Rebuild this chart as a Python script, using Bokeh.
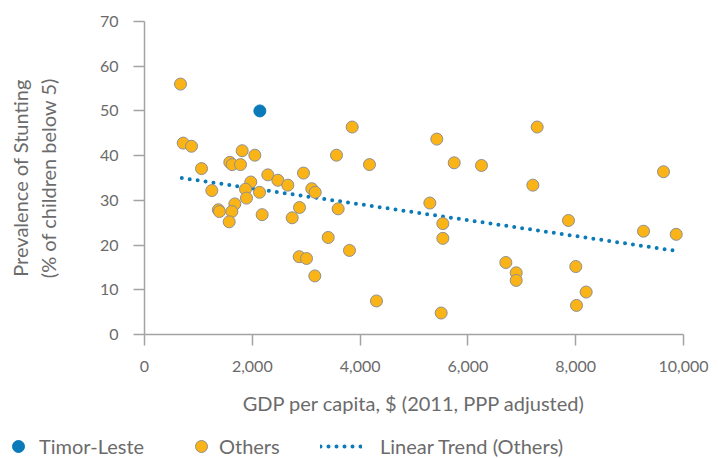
from bokeh.plotting import figure
from bokeh.layouts import column
from bokeh.models import Range1d, LinearAxis, FixedTicker, Legend, LegendItem, NumeralTickFormatter
from bokeh.embed import file_html
from bokeh.resources import INLINE

# ---------------- data ----------------
timor_gdp = [2140]
timor_stunting = [50.0]

others_gdp = [668, 718, 872, 1812, 2047, 3562, 1058, 1583, 1627, 1781,
              2288, 2474, 2659, 2950, 1972, 1874, 1249, 1892, 2134, 3104,
              3167, 3593, 1676, 1370, 1390, 1620, 1571, 2183, 2876, 2740,
              3408, 2870, 3006, 3803, 3160, 4304, 4174, 3853, 5423, 5746,
              6252, 7285, 7205, 5294, 5535, 5535, 5504, 6704, 6896, 6896,
              7866, 8002, 8015, 9629, 9258, 9865, 8194]
others_stunting = [56.0, 42.8, 42.1, 41.1, 40.1, 40.1, 37.1, 38.5, 38.0, 38.0,
                   35.7, 34.5, 33.4, 36.1, 34.1, 32.5, 32.2, 30.5, 31.8, 32.6,
                   31.8, 28.1, 29.2, 27.9, 27.5, 27.5, 25.2, 26.8, 28.4, 26.1,
                   21.7, 17.4, 17.0, 18.8, 13.1, 7.5, 38.0, 46.4, 43.7, 38.4,
                   37.8, 46.4, 33.4, 29.4, 24.8, 21.5, 4.8, 16.1, 13.8, 12.1,
                   25.5, 15.2, 6.5, 36.4, 23.1, 22.4, 9.5]

trend_gdp = [692, 9808]
trend_stunting = [35.0, 18.8]

x_ticks = [0, 2000, 4000, 6000, 8000, 10000]
y_ticks = [0, 10, 20, 30, 40, 50, 60, 70]

series_names = ["Timor-Leste", "Others", "Linear Trend (Others)"]

# ---------------- style ----------------
FONT = "Lato"
TEXT = "#6b6b6b"
AXIS = "#a3a3a3"
BLUE = "#0a7ab8"
ORANGE = "#fbb417"
EDGE = "#8f8f8f"

p = figure(width=718, height=434, output_backend="svg", toolbar_location=None,
           x_range=Range1d(0, 10000), y_range=Range1d(0, 70),
           min_border_left=144, min_border_right=35, min_border_top=21,
           min_border_bottom=100)
p.outline_line_color = None
p.xgrid.visible = False
p.ygrid.visible = False

p.line(trend_gdp, trend_stunting, line_color=BLUE, line_width=4,
       line_dash="0 8", line_cap="round")
p.scatter(others_gdp, others_stunting, size=12, fill_color=ORANGE,
          line_color=EDGE, line_width=1)
p.scatter(timor_gdp, timor_stunting, size=12, fill_color=BLUE,
          line_color=BLUE, line_width=1)

for ax in (p.xaxis[0], p.yaxis[0]):
    ax.axis_line_color = AXIS
    ax.axis_line_width = 1.5
    ax.major_tick_line_color = AXIS
    ax.major_tick_line_width = 1.5
    ax.major_tick_in = 0
    ax.major_tick_out = 11
    ax.minor_tick_line_color = None
    ax.major_label_text_font = FONT
    ax.major_label_text_font_size = "16px"
    ax.major_label_text_color = TEXT
    ax.axis_label_text_font = FONT
    ax.axis_label_text_font_size = "20px"
    ax.axis_label_text_font_style = "normal"
    ax.axis_label_text_color = TEXT

p.xaxis[0].ticker = FixedTicker(ticks=x_ticks)
p.xaxis[0].formatter = NumeralTickFormatter(format="0,0")
p.xaxis[0].major_label_standoff = 15
p.xaxis[0].axis_label = "GDP per capita, $ (2011, PPP adjusted)"
p.xaxis[0].axis_label_standoff = 16

p.yaxis[0].ticker = FixedTicker(ticks=y_ticks)
p.yaxis[0].major_label_standoff = 15
p.yaxis[0].axis_label = "(% of children below 5)"
p.yaxis[0].axis_label_standoff = 37

ax2 = LinearAxis(ticker=FixedTicker(ticks=[]), axis_line_color=None,
                 major_tick_out=0, major_tick_in=0, minor_tick_line_color=None,
                 major_label_standoff=0,
                 axis_label="Prevalence of Stunting", axis_label_standoff=1,
                 axis_label_text_font=FONT, axis_label_text_font_size="20px",
                 axis_label_text_font_style="normal", axis_label_text_color=TEXT)
p.add_layout(ax2, "left")

# ---------------- legend strip ----------------
lg = figure(width=718, height=24, output_backend="svg", toolbar_location=None,
            x_axis_location=None, y_axis_location=None,
            x_range=Range1d(0, 1), y_range=Range1d(0, 1), min_border=0)
lg.outline_line_color = None
lg.xgrid.visible = False
lg.ygrid.visible = False
for fig in (p, lg):
    if "frame_align" in fig.properties():
        fig.frame_align = False

# proxy renderers (their points fall outside this strip's ranges; only the
# legend swatches show)
r_tim = lg.scatter(x=timor_gdp, y=timor_stunting, size=12, fill_color=BLUE,
                   line_color=BLUE, line_width=1)
r_oth = lg.scatter(x=others_gdp, y=others_stunting, size=12, fill_color=ORANGE,
                   line_color=EDGE, line_width=1)
r_trend = lg.line(x=trend_gdp, y=trend_stunting, line_color=BLUE, line_width=4,
                  line_dash="0 8", line_cap="round")

def make_legend(label, renderer, loc, gw, standoff):
    return Legend(items=[LegendItem(label=label, renderers=[renderer])],
                  location=loc, orientation="horizontal",
                  glyph_width=gw, glyph_height=30, label_height=30,
                  label_standoff=standoff, padding=0, margin=0, spacing=0,
                  border_line_color=None, background_fill_alpha=0,
                  label_text_font=FONT, label_text_font_size="20px",
                  label_text_color=TEXT)

lg.add_layout(make_legend(series_names[0], r_tim, (3, -3), 30, 6))
lg.add_layout(make_legend(series_names[1], r_oth, (186, -3), 30, 3))
lg.add_layout(make_legend(series_names[2], r_trend, (320, -3), 42, 18))

layout = column(p, lg, spacing=0)
open("out.html", "w").write(file_html(layout, INLINE))
